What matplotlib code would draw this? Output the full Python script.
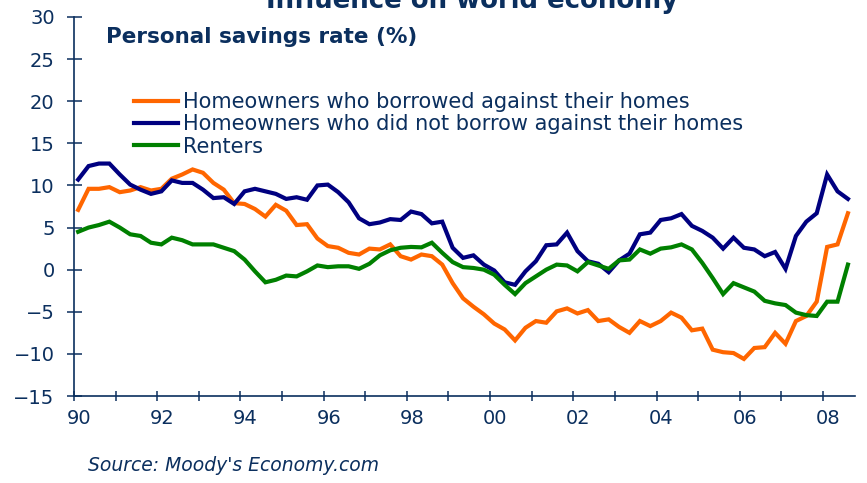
import numpy as np
import matplotlib
matplotlib.use("Agg")
import matplotlib.pyplot as plt
from matplotlib.transforms import ScaledTranslation

# quarterly personal savings rate (%), 1990Q1 - 2008Q3
borrowed = [7.1, 9.6, 9.6, 9.8, 9.2, 9.4, 9.8, 9.4, 9.6, 10.8, 11.3, 11.9, 11.5, 10.3, 9.5,
            7.9, 7.8, 7.2, 6.3, 7.7, 7.0, 5.3, 5.4, 3.7, 2.8, 2.6, 2.0, 1.8, 2.5, 2.4,
            3.0, 1.6, 1.2, 1.8, 1.6, 0.6, -1.6, -3.4, -4.4, -5.3, -6.4, -7.1, -8.4, -6.9, -6.1,
            -6.3, -4.95, -4.6, -5.2, -4.8, -6.1, -5.9, -6.8, -7.5, -6.1, -6.7, -6.1, -5.1, -5.7, -7.2,
            -7.0, -9.5, -9.8, -9.9, -10.6, -9.3, -9.2, -7.5, -8.8, -6.1, -5.5, -3.8, 2.7, 3.0, 6.7]
not_borrowed = [10.7, 12.3, 12.6, 12.6, 11.3, 10.1, 9.5, 9.0, 9.3, 10.6, 10.3, 10.3, 9.5, 8.5, 8.6,
                7.8, 9.3, 9.6, 9.3, 9.0, 8.4, 8.6, 8.3, 10.0, 10.1, 9.2, 8.0, 6.1, 5.4, 5.6,
                6.0, 5.9, 6.9, 6.6, 5.5, 5.7, 2.6, 1.4, 1.7, 0.6, -0.1, -1.5, -1.8, -0.2, 1.0,
                2.9, 3.0, 4.4, 2.2, 1.0, 0.7, -0.3, 1.1, 1.9, 4.2, 4.4, 5.9, 6.1, 6.6, 5.2,
                4.6, 3.8, 2.5, 3.8, 2.6, 2.4, 1.6, 2.1, 0.1, 4.0, 5.7, 6.7, 11.3, 9.3, 8.4]
renters = [4.5, 5.0, 5.3, 5.7, 5.0, 4.2, 4.0, 3.2, 3.0, 3.8, 3.5, 3.0, 3.0, 3.0, 2.6,
           2.2, 1.2, -0.2, -1.5, -1.2, -0.7, -0.8, -0.2, 0.5, 0.3, 0.4, 0.4, 0.1, 0.7, 1.7,
           2.3, 2.6, 2.7, 2.65, 3.2, 2.0, 0.9, 0.3, 0.2, 0.0, -0.6, -1.8, -2.9, -1.6, -0.8,
           0.0, 0.6, 0.5, -0.2, 0.9, 0.5, 0.1, 1.1, 1.2, 2.4, 1.9, 2.5, 2.65, 3.0, 2.4,
           0.8, -1.0, -2.9, -1.6, -2.1, -2.6, -3.7, -4.0, -4.2, -5.1, -5.4, -5.5, -3.8, -3.8, 0.6]
labels = ["Homeowners who borrowed against their homes",
          "Homeowners who did not borrow against their homes",
          "Renters"]
colors = ["#FF6600", "#000080", "#008000"]
year_ticks = list(range(1990, 2009))
year_labels = ["%02d" % (y % 100) if y % 2 == 0 else "" for y in year_ticks]
y_ticks = list(range(-15, 31, 5))

navy = "#0B2F5E"
plt.rcParams['font.family'] = ['DejaVu Sans']

t = 1990.1 + 0.25 * np.arange(len(borrowed))

fig = plt.figure(figsize=(8.67, 4.83), dpi=100)
ax = fig.add_axes([74/867, 1-396/483, (855-74)/867, (396-17)/483])

for vals, lab, c in zip([borrowed, not_borrowed, renters], labels, colors):
    ax.plot(t, vals, color=c, lw=3, label=lab, solid_joinstyle='miter')

ax.set_xlim(1990, 2008.77)
ax.set_ylim(-15, 30)
ax.set_xticks(year_ticks)
ax.set_xticklabels(year_labels)
ax.set_yticks(y_ticks)

for s in ['top', 'right']:
    ax.spines[s].set_visible(False)
for s in ['left', 'bottom']:
    ax.spines[s].set_color(navy)
    ax.spines[s].set_linewidth(1.2)

ax.tick_params(axis='y', direction='inout', length=10.8, width=1.1, color=navy,
               labelcolor=navy, labelsize=14, pad=8.5)
ax.tick_params(axis='x', direction='inout', length=7.2, width=1.1, color=navy,
               labelcolor=navy, labelsize=14, pad=6)
for lab in ax.get_xticklabels():
    lab.set_transform(lab.get_transform() + ScaledTranslation(5/100, 0, fig.dpi_scale_trans))

leg = ax.legend(loc='upper left', bbox_to_anchor=(134/867, 1-92/483),
                bbox_transform=fig.transFigure, frameon=False, fontsize=15,
                handlelength=2.1, handletextpad=0.25, labelspacing=0.11,
                borderpad=0, borderaxespad=0)
for txt in leg.get_texts():
    txt.set_color(navy)

fig.text(472/867, 1-8/483, "Influence on world economy", ha='center', va='baseline',
         fontsize=18.7, fontweight='bold', color=navy)
fig.text(106/867, 1-43/483, "Personal savings rate (%)", ha='left', va='baseline',
         fontsize=15.5, fontweight='bold', color=navy)
fig.text(88/867, 1-471/483, "Source: Moody's Economy.com", ha='left', va='baseline',
         fontsize=13.5, style='italic', color=navy)

fig.savefig("out.png", dpi=100)
